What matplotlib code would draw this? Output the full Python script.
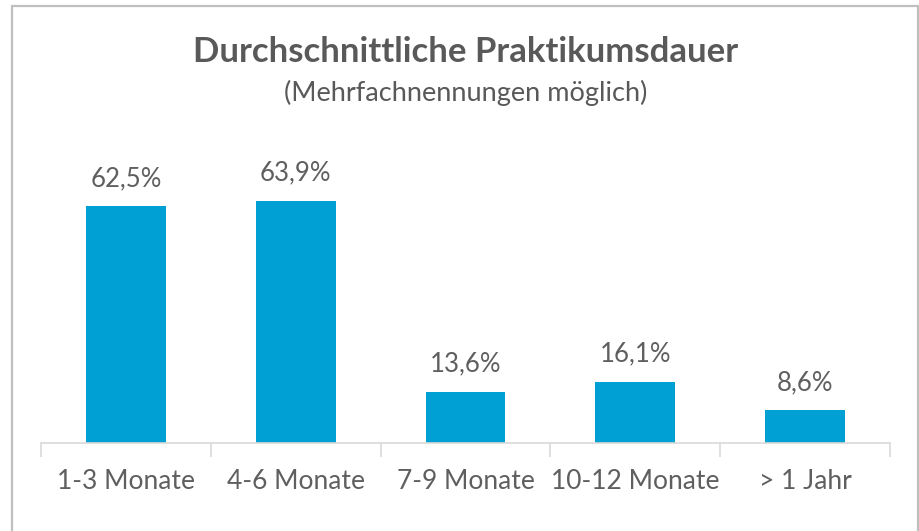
import matplotlib.pyplot as plt
from matplotlib.patches import Rectangle

categories = ["1-3 Monate", "4-6 Monate", "7-9 Monate", "10-12 Monate", "> 1 Jahr"]
values = [62.5, 63.9, 13.6, 16.1, 8.6]

plt.rcParams["font.family"] = ["Lato", "DejaVu Sans"]

W, H = 920, 531
fig = plt.figure(figsize=(W / 100, H / 100), dpi=100)

# frame around the chart
fig.patches.append(Rectangle((12 / W, -0.05), (918 - 12) / W, 1.05 - 6 / H,
                             transform=fig.transFigure, fill=False,
                             edgecolor="#bfbfbf", lw=1.6))

x0, x1 = 41, 890
y_base, y_top = 443, 178
ax = fig.add_axes([x0 / W, 1 - y_base / H, (x1 - x0) / W, (y_base - y_top) / H])

pos = range(len(categories))
ax.bar(pos, values, width=0.47, color="#009fd4")
for p, v in zip(pos, values):
    ax.text(p, v + 7.4, f"{v:.1f}%".replace(".", ","), ha="center", va="center",
            fontsize=18.5, color="#5f5f5f")

ax.set_xlim(-0.5, len(categories) - 0.5)
ax.set_ylim(0, 70)
ax.set_yticks([])
for s in ["top", "right", "left"]:
    ax.spines[s].set_visible(False)
ax.spines["bottom"].set_color("#d9d9d9")
ax.spines["bottom"].set_linewidth(1.2)

ax.set_xticks([p + 0.5 for p in range(-1, len(categories))], minor=False)
ax.set_xticklabels([])
ax.tick_params(axis="x", which="major", length=10, color="#d9d9d9", width=1.2)
ax.set_xticks(list(pos), minor=True)
ax.set_xticklabels(categories, minor=True, fontsize=19, color="#5f5f5f")
ax.tick_params(axis="x", which="minor", length=0, pad=19)

fig.text(466 / W, 1 - 52 / H, "Durchschnittliche Praktikumsdauer", ha="center",
         va="center", fontsize=25, fontweight="bold", color="#595959")
fig.text(466 / W, 1 - 93 / H, "(Mehrfachnennungen möglich)", ha="center",
         va="center", fontsize=19.5, color="#595959")

fig.savefig("out.png", dpi=100)
